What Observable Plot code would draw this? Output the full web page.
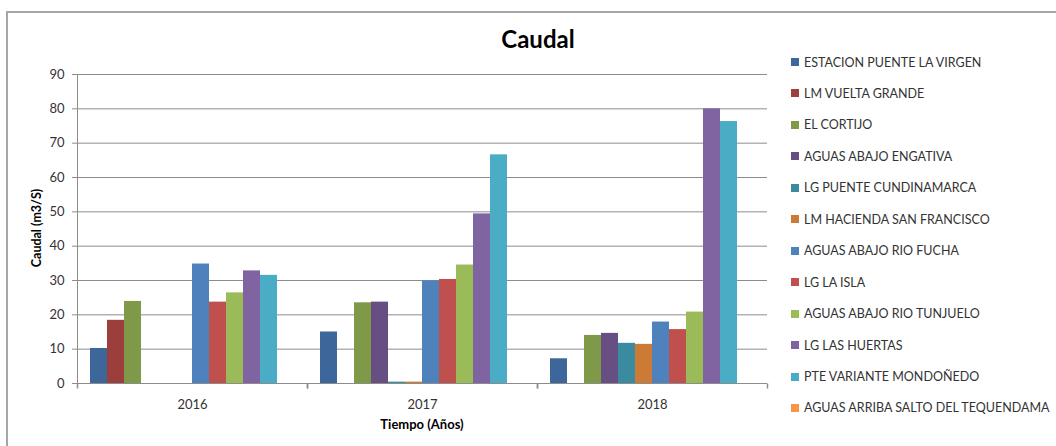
<!DOCTYPE html>
<html><head><meta charset="utf-8">
<script src="https://cdn.jsdelivr.net/npm/d3@7"></script>
<script src="https://cdn.jsdelivr.net/npm/@observablehq/plot@0.6"></script>
<style>
body{margin:0;background:#fff;}
#wrap{position:relative;width:1056px;height:446px;overflow:hidden;font-family:Lato,"Open Sans",sans-serif;color:#333;}
#border{position:absolute;left:6px;top:11px;width:1200px;height:600px;border-left:2px solid #a6a6a6;border-top:2px solid #a6a6a6;box-sizing:border-box;}
#title{position:absolute;left:0;width:1076px;top:24px;text-align:center;font-weight:bold;font-size:24px;color:#000;line-height:30px;}
#ylab{position:absolute;left:36px;top:228px;transform:translate(-50%,-50%) rotate(-90deg);font-weight:bold;font-size:12.5px;white-space:nowrap;color:#000;}
#xlab{position:absolute;left:422px;top:424px;transform:translate(-50%,-50%);font-weight:bold;font-size:13px;white-space:nowrap;color:#000;}
.lg{position:absolute;left:791px;height:16px;display:flex;align-items:center;font-size:12.5px;color:#333;white-space:nowrap;transform:translateY(-50%);}
.lg span.sw{display:inline-block;width:8px;height:8px;margin-right:5px;}
svg{position:absolute;left:0;top:0;}
</style></head><body><div id="wrap"><div id="border"></div></div>
<script>
const years = ["2016", "2017", "2018"];
const stations = [
  "ESTACION PUENTE LA VIRGEN",
  "LM VUELTA GRANDE",
  "EL CORTIJO",
  "AGUAS ABAJO ENGATIVA",
  "LG PUENTE CUNDINAMARCA",
  "LM HACIENDA SAN FRANCISCO",
  "AGUAS ABAJO RIO FUCHA",
  "LG LA ISLA",
  "AGUAS ABAJO RIO TUNJUELO",
  "LG LAS HUERTAS",
  "PTE VARIANTE MONDOÑEDO",
  "AGUAS ARRIBA SALTO DEL TEQUENDAMA"
];
const colors = ["#3d679b", "#9c3e3b", "#7e9a49", "#674f84", "#3a8aa0", "#cb7b36",
                "#4f81bd", "#c0504d", "#9bbb59", "#8064a2", "#4bacc6", "#f79646"];
const values2016 = [10.2, 18.4, 23.9, null, null, null, 34.8, 23.7, 26.4, 32.8, 31.5, null];
const values2017 = [15.0, null, 23.5, 23.7, 0.4, 0.4, 29.9, 30.3, 34.5, 49.4, 66.6, null];
const values2018 = [7.2, null, 14.0, 14.6, 11.7, 11.4, 17.9, 15.7, 20.8, 80.0, 76.3, null];
const yTicks = [0, 10, 20, 30, 40, 50, 60, 70, 80, 90];

const byYear = {"2016": values2016, "2017": values2017, "2018": values2018};
const data = [];
for (const yr of years) byYear[yr].forEach((v, i) => { if (v != null) data.push({year: yr, station: stations[i], value: v}); });

const tickSym = {draw(ctx) { ctx.moveTo(0, 0); ctx.lineTo(0, 5); }};

const chart = Plot.plot({
  width: 1056, height: 446,
  marginLeft: 77, marginRight: 289, marginTop: 74, marginBottom: 63,
  style: {fontFamily: "Lato, 'Open Sans', sans-serif", fontSize: "13px", color: "#333", background: "transparent", overflow: "visible"},
  fx: {domain: years, padding: 0, label: null},
  x: {domain: stations, paddingInner: 0, paddingOuter: 0.74, axis: null},
  y: {domain: [0, 90], label: null},
  color: {domain: stations, range: colors},
  marks: [
    Plot.gridY(yTicks, {stroke: "#8c8c8c", strokeOpacity: 1}),
    Plot.barY(data, {fx: "year", x: "station", y: "value", fill: "station"}),
    Plot.axisY(yTicks, {tickSize: 5, tickPadding: 8, stroke: "#8c8c8c", fill: "#333", label: null, fontSize: 13}),
    Plot.axisFx({anchor: "bottom", tickSize: 0, tickPadding: 16, label: null, fontSize: 13, fill: "#333"}),
    Plot.ruleY([0], {stroke: "#8c8c8c"}),
    Plot.frame({anchor: "left", facetAnchor: "left", stroke: "#8c8c8c"}),
    Plot.dot([0], {frameAnchor: "bottom-left", symbol: tickSym, stroke: "#8c8c8c", fill: "none"}),
    Plot.dot([0], {frameAnchor: "bottom-right", symbol: tickSym, stroke: "#8c8c8c", fill: "none"})
  ]
});
const wrap = document.getElementById("wrap");
wrap.appendChild(chart);

const t = document.createElement("div"); t.id = "title"; t.textContent = "Caudal"; wrap.appendChild(t);
const yl = document.createElement("div"); yl.id = "ylab"; yl.textContent = "Caudal (m3/S)"; wrap.appendChild(yl);
const xl = document.createElement("div"); xl.id = "xlab"; xl.textContent = "Tiempo (Años)"; wrap.appendChild(xl);
stations.forEach((s, i) => {
  const d = document.createElement("div");
  d.className = "lg";
  d.style.top = (62 + i * 31.45) + "px";
  const sw = document.createElement("span"); sw.className = "sw"; sw.style.background = colors[i];
  d.appendChild(sw);
  d.appendChild(document.createTextNode(s));
  wrap.appendChild(d);
});
</script>
</body></html>
